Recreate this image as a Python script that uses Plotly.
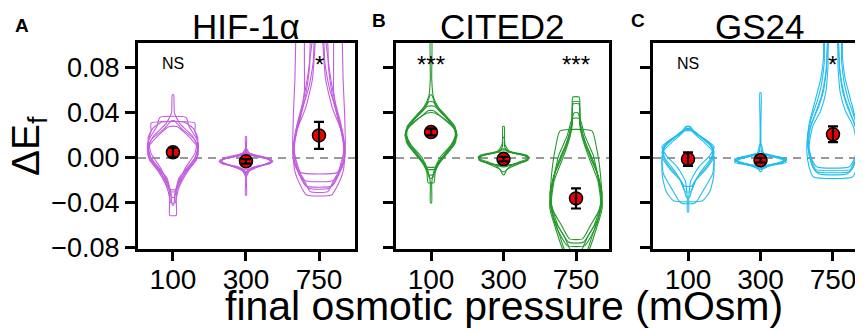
import plotly.graph_objects as go

# ---------------- data ----------------
categories = ["100", "300", "750"]
panel_titles = ["HIF-1α", "CITED2", "GS24"]
panel_letters = ["A", "B", "C"]
colors = ["#C25CE0", "#23992A", "#22BDF0"]

# mean +/- error (ΔE_f) per category
hif_mean = [0.005, -0.003, 0.020]
hif_err = [0.004, 0.002, 0.012]
cited_mean = [0.023, -0.001, -0.036]
cited_err = [0.003, 0.002, 0.009]
gs_mean = [-0.001, -0.002, 0.021]
gs_err = [0.006, 0.002, 0.007]

# significance labels
hif_sig = ["NS", "", "*"]
cited_sig = ["***", "", "***"]
gs_sig = ["NS", "", "*"]

# violin outlines per replicate: (ΔE_f, half-width in category units)
hif_100 = [
    [(-0.051, 0.045), (-0.036, 0.045), (-0.025, 0.09), (-0.012, 0.2), (0.0, 0.33), (0.012, 0.35), (0.024, 0.3), (0.031, 0.3)],
    [(-0.035, 0.02), (-0.025, 0.06), (-0.01, 0.2), (0.002, 0.34), (0.016, 0.33), (0.028, 0.22), (0.036, 0.18)],
    [(-0.042, 0.01), (-0.03, 0.03), (-0.015, 0.12), (0.0, 0.3), (0.01, 0.34), (0.02, 0.26), (0.03, 0.1), (0.04, 0.02), (0.056, 0.01)],
    [(-0.03, 0.03), (-0.018, 0.08), (-0.006, 0.25), (0.006, 0.34), (0.016, 0.3), (0.026, 0.12), (0.033, 0.02)],
    [(-0.028, 0.05), (-0.015, 0.15), (-0.002, 0.32), (0.01, 0.33), (0.02, 0.2), (0.028, 0.05)],
    [(-0.04, 0.03), (-0.025, 0.06), (-0.01, 0.16), (0.004, 0.3), (0.018, 0.34), (0.026, 0.28), (0.032, 0.15)],
]
hif_300 = [
    [(-0.033, 0.008), (-0.012, 0.01), (-0.008, 0.1), (-0.004, 0.36), (-0.001, 0.3), (0.002, 0.08), (0.004, 0.01), (0.019, 0.008)],
    [(-0.012, 0.02), (-0.007, 0.2), (-0.003, 0.37), (0.0, 0.25), (0.003, 0.05), (0.006, 0.01)],
    [(-0.014, 0.01), (-0.009, 0.08), (-0.005, 0.33), (-0.002, 0.35), (0.002, 0.12), (0.005, 0.02)],
    [(-0.01, 0.03), (-0.006, 0.25), (-0.002, 0.36), (0.001, 0.2), (0.004, 0.03)],
    [(-0.016, 0.01), (-0.01, 0.06), (-0.004, 0.34), (0.0, 0.3), (0.004, 0.05), (0.008, 0.01)],
]
hif_750 = [
    [(-0.033, 0.17), (-0.025, 0.25), (-0.012, 0.33), (0.01, 0.36), (0.04, 0.35), (0.07, 0.33), (0.1, 0.32), (0.13, 0.3)],
    [(-0.027, 0.14), (-0.018, 0.24), (-0.005, 0.33), (0.01, 0.35), (0.03, 0.3), (0.05, 0.22), (0.075, 0.15), (0.1, 0.1), (0.12, 0.05)],
    [(-0.013, 0.25), (-0.005, 0.3), (0.005, 0.34), (0.02, 0.33), (0.04, 0.25), (0.06, 0.15), (0.085, 0.08), (0.11, 0.05)],
    [(-0.03, 0.12), (-0.02, 0.2), (-0.008, 0.3), (0.008, 0.34), (0.025, 0.3), (0.045, 0.18), (0.07, 0.09), (0.1, 0.055), (0.12, 0.04)],
    [(-0.025, 0.18), (-0.015, 0.27), (0.0, 0.35), (0.015, 0.34), (0.035, 0.26), (0.06, 0.2), (0.09, 0.2), (0.11, 0.18)],
    [(-0.02, 0.2), (-0.008, 0.32), (0.006, 0.36), (0.025, 0.3), (0.05, 0.2), (0.08, 0.13), (0.11, 0.1)],
]
cited_100 = [
    [(-0.04, 0.008), (-0.022, 0.01), (-0.012, 0.04), (0.0, 0.12), (0.012, 0.28), (0.022, 0.35), (0.032, 0.26), (0.045, 0.1), (0.055, 0.03), (0.07, 0.01), (0.11, 0.008)],
    [(-0.022, 0.04), (-0.012, 0.06), (0.0, 0.16), (0.012, 0.3), (0.024, 0.34), (0.035, 0.22), (0.045, 0.08), (0.05, 0.03)],
    [(-0.015, 0.03), (-0.005, 0.1), (0.008, 0.27), (0.02, 0.36), (0.03, 0.3), (0.04, 0.14), (0.046, 0.05)],
    [(-0.01, 0.05), (0.0, 0.15), (0.012, 0.32), (0.024, 0.35), (0.034, 0.2), (0.04, 0.05)],
    [(-0.018, 0.02), (-0.006, 0.08), (0.006, 0.22), (0.018, 0.34), (0.028, 0.33), (0.038, 0.2), (0.048, 0.06), (0.056, 0.01)],
    [(-0.008, 0.06), (0.002, 0.2), (0.014, 0.34), (0.026, 0.32), (0.036, 0.15), (0.042, 0.04)],
]
cited_300 = [
    [(-0.008, 0.02), (-0.004, 0.2), (0.0, 0.35), (0.003, 0.25), (0.006, 0.05), (0.01, 0.015), (0.028, 0.01)],
    [(-0.015, 0.01), (-0.01, 0.05), (-0.005, 0.22), (-0.001, 0.34), (0.002, 0.3), (0.005, 0.1), (0.008, 0.02)],
    [(-0.007, 0.05), (-0.003, 0.3), (0.001, 0.35), (0.004, 0.15), (0.007, 0.02)],
    [(-0.012, 0.02), (-0.006, 0.12), (-0.002, 0.33), (0.002, 0.33), (0.006, 0.08), (0.012, 0.02), (0.018, 0.01)],
    [(-0.006, 0.1), (-0.002, 0.34), (0.002, 0.3), (0.005, 0.06)],
]
cited_750 = [
    [(-0.075, 0.1), (-0.06, 0.25), (-0.04, 0.34), (-0.02, 0.3), (0.0, 0.18), (0.015, 0.1), (0.03, 0.05), (0.054, 0.045)],
    [(-0.085, 0.15), (-0.065, 0.27), (-0.045, 0.36), (-0.025, 0.35), (-0.005, 0.32), (0.01, 0.28), (0.024, 0.22)],
    [(-0.072, 0.09), (-0.06, 0.2), (-0.045, 0.33), (-0.03, 0.35), (-0.01, 0.28), (0.01, 0.15), (0.03, 0.06), (0.05, 0.04)],
    [(-0.09, 0.1), (-0.07, 0.22), (-0.05, 0.32), (-0.032, 0.36), (-0.015, 0.3), (0.0, 0.2), (0.02, 0.08), (0.04, 0.03)],
    [(-0.085, 0.05), (-0.07, 0.16), (-0.055, 0.3), (-0.04, 0.35), (-0.02, 0.32), (0.0, 0.22), (0.015, 0.12), (0.03, 0.06), (0.048, 0.04)],
    [(-0.078, 0.12), (-0.06, 0.28), (-0.04, 0.36), (-0.02, 0.31), (0.002, 0.24), (0.02, 0.12), (0.035, 0.05)],
]
gs_100 = [
    [(-0.038, 0.2), (-0.03, 0.3), (-0.018, 0.35), (-0.005, 0.36), (0.006, 0.34), (0.014, 0.22), (0.022, 0.08), (0.028, 0.01)],
    [(-0.048, 0.008), (-0.035, 0.01), (-0.02, 0.04), (-0.008, 0.15), (0.002, 0.3), (0.01, 0.36), (0.018, 0.2), (0.025, 0.05)],
    [(-0.035, 0.02), (-0.022, 0.08), (-0.01, 0.25), (0.0, 0.35), (0.01, 0.33), (0.02, 0.15), (0.026, 0.04)],
    [(-0.03, 0.04), (-0.018, 0.12), (-0.006, 0.28), (0.005, 0.36), (0.014, 0.28), (0.022, 0.1), (0.028, 0.03)],
    [(-0.04, 0.1), (-0.028, 0.22), (-0.014, 0.34), (0.0, 0.36), (0.01, 0.32), (0.018, 0.18), (0.024, 0.06)],
    [(-0.025, 0.05), (-0.012, 0.18), (0.0, 0.32), (0.008, 0.35), (0.016, 0.25), (0.022, 0.1), (0.026, 0.02)],
]
gs_300 = [
    [(-0.012, 0.01), (-0.007, 0.05), (-0.004, 0.3), (-0.001, 0.36), (0.002, 0.15), (0.005, 0.02), (0.058, 0.008)],
    [(-0.008, 0.05), (-0.005, 0.25), (-0.002, 0.35), (0.001, 0.25), (0.004, 0.04)],
    [(-0.01, 0.02), (-0.006, 0.15), (-0.003, 0.34), (0.0, 0.3), (0.003, 0.08), (0.006, 0.01)],
    [(-0.007, 0.1), (-0.004, 0.36), (-0.001, 0.28), (0.002, 0.1), (0.004, 0.02)],
    [(-0.009, 0.04), (-0.005, 0.2), (-0.002, 0.36), (0.001, 0.2), (0.003, 0.05), (0.012, 0.01)],
]
gs_750 = [
    [(-0.017, 0.27), (-0.008, 0.33), (0.005, 0.36), (0.02, 0.35), (0.035, 0.3), (0.05, 0.22), (0.065, 0.16), (0.085, 0.12), (0.11, 0.1)],
    [(-0.012, 0.24), (-0.004, 0.3), (0.008, 0.34), (0.025, 0.32), (0.04, 0.24), (0.055, 0.16), (0.075, 0.1), (0.1, 0.07), (0.12, 0.05)],
    [(-0.008, 0.22), (0.0, 0.3), (0.012, 0.35), (0.03, 0.3), (0.045, 0.2), (0.06, 0.13), (0.08, 0.09), (0.11, 0.06)],
    [(-0.014, 0.2), (-0.005, 0.28), (0.01, 0.33), (0.028, 0.28), (0.042, 0.17), (0.058, 0.1), (0.08, 0.07), (0.11, 0.05)],
    [(-0.01, 0.26), (0.0, 0.32), (0.015, 0.35), (0.03, 0.33), (0.05, 0.25), (0.07, 0.17), (0.09, 0.13), (0.12, 0.11)],
]

y_ticks = [-0.08, -0.04, 0.0, 0.04, 0.08]

panels = [
    dict(violins=[hif_100, hif_300, hif_750], mean=hif_mean, err=hif_err, sig=hif_sig),
    dict(violins=[cited_100, cited_300, cited_750], mean=cited_mean, err=cited_err, sig=cited_sig),
    dict(violins=[gs_100, gs_300, gs_750], mean=gs_mean, err=gs_err, sig=gs_sig),
]

# ---------------- layout geometry ----------------
# the page body adds an 8px margin, so the figure is placed 8px in from the top-left
OFF = 8
W, H = 863 - OFF, 332 - OFF
FONT = "Liberation Sans, Arial, Helvetica, sans-serif"


def px(v):
    return (v - OFF) / W


def py(v):
    return 1 - (v - OFF) / H


x_domains = [[px(138), px(355)], [px(396), px(609)], [px(653), 1.0]]
x_ranges = [[-0.479, 2.493], [-0.483, 2.455], [-0.483, 2.414]]
y_domain = [py(249), py(43)]
y_range = [-0.081, 0.1022]

fig = go.Figure()

for i, p in enumerate(panels):
    xa = "x" if i == 0 else f"x{i + 1}"
    ya = "y" if i == 0 else f"y{i + 1}"
    col = colors[i]
    for ci, reps in enumerate(p["violins"]):
        for prof in reps:
            ys = [q[0] for q in prof]
            ws = [q[1] for q in prof]
            xs = [ci + w for w in ws] + [ci - w for w in ws[::-1]] + [ci + ws[0]]
            yy = ys + ys[::-1] + [ys[0]]
            fig.add_trace(go.Scatter(
                x=xs, y=yy, mode="lines", xaxis=xa, yaxis=ya,
                line=dict(color=col, width=1.1, shape="spline", smoothing=0.5),
                hoverinfo="skip", showlegend=False))
    # mean markers
    fig.add_trace(go.Scatter(
        x=[0, 1, 2], y=p["mean"], mode="markers", xaxis=xa, yaxis=ya,
        marker=dict(size=13, color="#EE0000", line=dict(color="black", width=1.5)),
        hoverinfo="skip", showlegend=False))
    # error bars on top of markers
    fig.add_trace(go.Scatter(
        x=[0, 1, 2], y=p["mean"], mode="markers", xaxis=xa, yaxis=ya,
        marker=dict(size=1, color="rgba(0,0,0,0)"),
        error_y=dict(type="data", array=p["err"], color="black", thickness=2.2, width=5),
        hoverinfo="skip", showlegend=False))
    # zero dashed line
    fig.add_shape(type="line", xref=f"{xa} domain", yref=ya, x0=0, x1=1, y0=0, y1=0,
                  line=dict(color="#999999", width=2, dash="8px,6px"), layer="below")
    # significance
    for ci, s in enumerate(p["sig"]):
        if not s:
            continue
        if s == "NS":
            fig.add_annotation(x=ci, y=0.084, xref=xa, yref=ya, text=s, showarrow=False,
                               xanchor="center", yanchor="middle",
                               font=dict(family=FONT, size=16, color="black"))
        else:
            fig.add_annotation(x=ci, y=0.083, xref=xa, yref=ya, text=s, showarrow=False,
                               xanchor="center", yanchor="middle",
                               font=dict(family=FONT, size=24, color="black"))

    xkey = "xaxis" if i == 0 else f"xaxis{i + 1}"
    ykey = "yaxis" if i == 0 else f"yaxis{i + 1}"
    fig.update_layout(**{
        xkey: dict(domain=x_domains[i], range=x_ranges[i], anchor=ya,
                   tickmode="array", tickvals=[0, 1, 2], ticktext=categories,
                   showline=True, linecolor="black", linewidth=3, mirror=True,
                   ticks="outside", ticklen=9, tickwidth=2.5, tickcolor="black",
                   ticklabelstandoff=-6,
                   showgrid=False, zeroline=False, automargin=False,
                   tickfont=dict(family=FONT, size=28, color="black")),
        ykey: dict(domain=y_domain, range=y_range, anchor=xa,
                   tickmode="array", tickvals=y_ticks, tickformat=".2f",
                   showticklabels=(i == 0),
                   showline=True, linecolor="black", linewidth=3, mirror=(i < 2),
                   ticks="outside", ticklen=10, tickwidth=2.5, tickcolor="black",
                   showgrid=False, zeroline=False, automargin=False,
                   tickfont=dict(family=FONT, size=27, color="black")),
    })

# panel titles
title_x = [246, 502, 760]
for i, t in enumerate(panel_titles):
    fig.add_annotation(x=px(title_x[i]), y=py(26), xref="paper", yref="paper", text=t,
                       showarrow=False, xanchor="center", yanchor="middle",
                       font=dict(family=FONT, size=35, color="black"))
# panel letters
letter_pos = [(22, 25), (379, 21), (638, 21)]
for (lx, ly), t in zip(letter_pos, panel_letters):
    fig.add_annotation(x=px(lx), y=py(ly), xref="paper", yref="paper", text=f"<b>{t}</b>",
                       showarrow=False, xanchor="center", yanchor="middle",
                       font=dict(family=FONT, size=19, color="black"))
# axis titles
fig.add_annotation(x=px(28), y=py(146), xref="paper", yref="paper", text="ΔE<sub>f</sub>",
                   textangle=-90, showarrow=False, xanchor="center", yanchor="middle",
                   font=dict(family=FONT, size=39, color="black"))
fig.add_annotation(x=px(504), y=py(306), xref="paper", yref="paper",
                   text="final osmotic pressure (mOsm)",
                   showarrow=False, xanchor="center", yanchor="middle",
                   font=dict(family=FONT, size=41, color="black"))

fig.update_layout(width=W, height=H, margin=dict(l=0, r=0, t=0, b=0, autoexpand=False),
                  paper_bgcolor="white", plot_bgcolor="white", showlegend=False,
                  font=dict(family=FONT, color="black"))

fig.write_html("out.html")
